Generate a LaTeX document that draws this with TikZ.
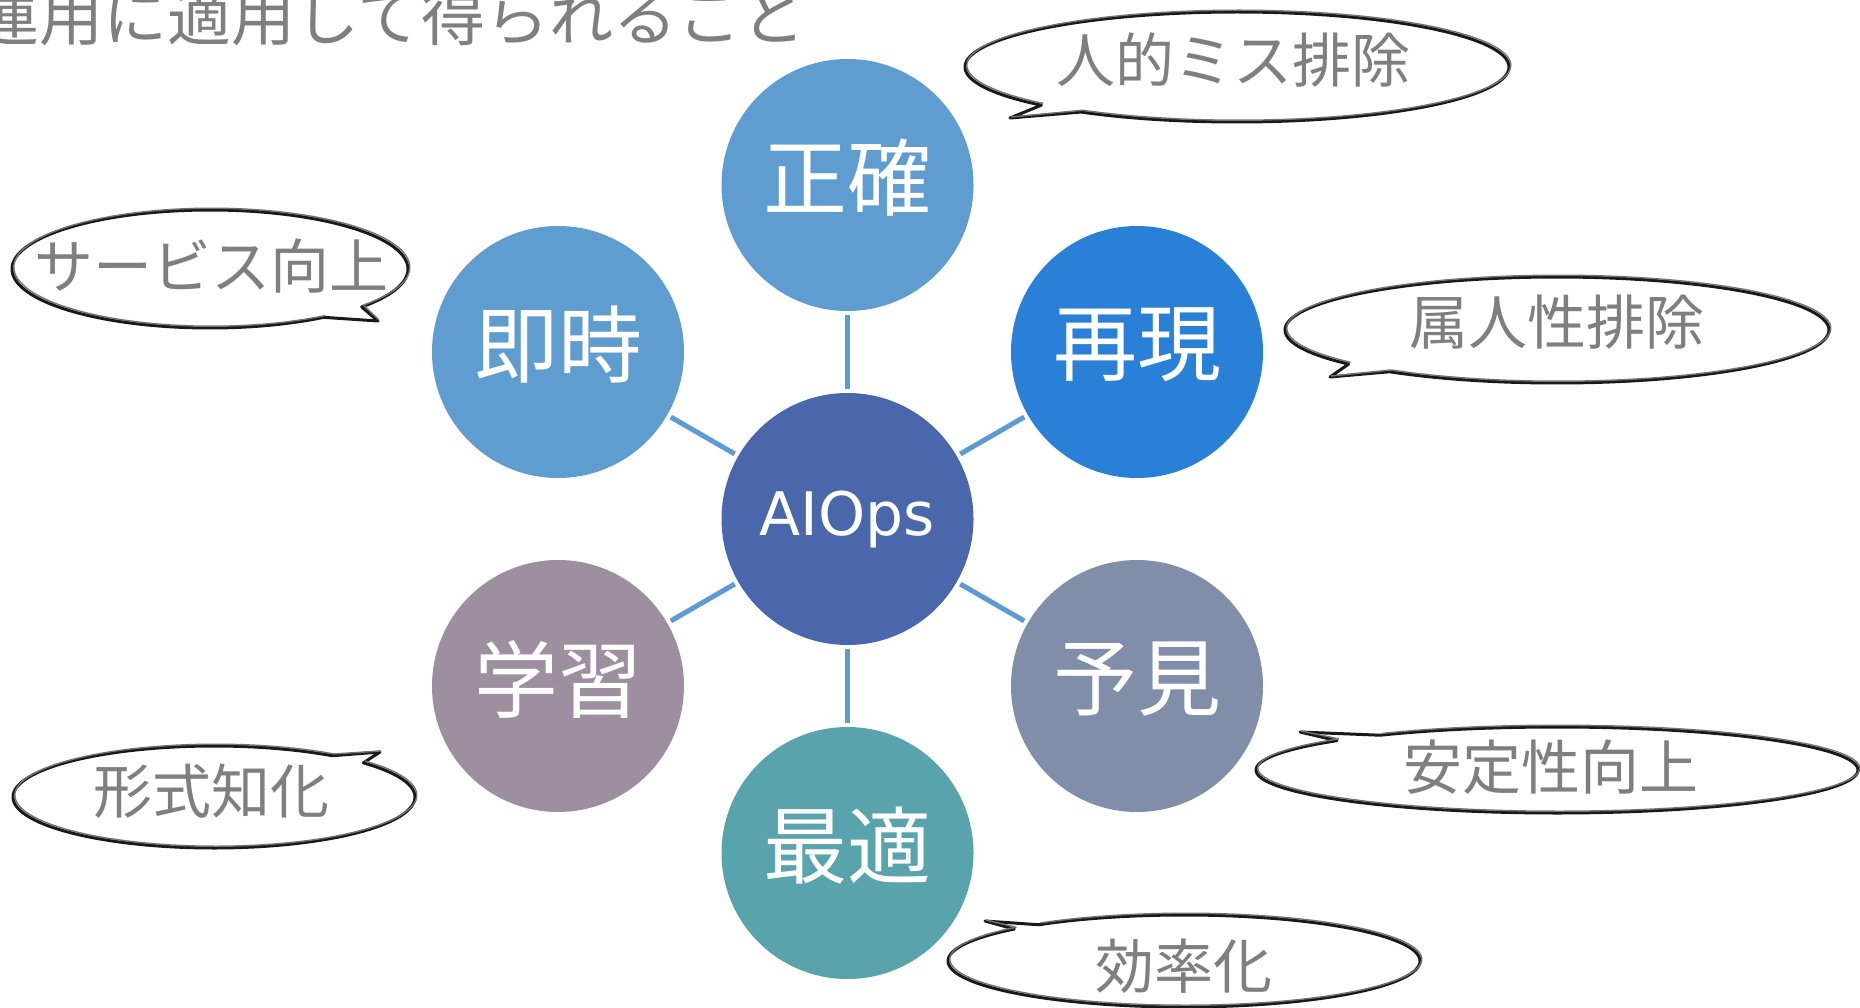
\documentclass[tikz,border=0pt]{standalone}
\usepackage{fontspec}
\newfontfamily\cjk{Noto Sans CJK JP}
\newfontfamily\latn{DejaVu Sans}
\definecolor{cLight}{HTML}{5F9DD1}
\definecolor{cBright}{HTML}{2980D6}
\definecolor{cSlate}{HTML}{808EAA}
\definecolor{cMauve}{HTML}{9E8FA0}
\definecolor{cTeal}{HTML}{58A3AC}
\definecolor{cHub}{HTML}{4A67AC}
\definecolor{linkblue}{HTML}{5D9BD5}
\definecolor{textgray}{HTML}{7F7F7F}
\newcommand\speechbub[8]{%
  \draw[bubline] plot[domain=#5:#6, samples=160, smooth] ({#1+#3*cos(\x)},{#2+#4*sin(\x)}) -- (#7,#8) -- cycle;
  \draw[bubsketch] plot[domain=#5:#6, samples=160, smooth] ({#1+1.8+#3*cos(\x)},{#2-1.8+#4*sin(\x)}) -- (#7+1,#8-1);
}
\begin{document}
\begin{tikzpicture}[x=1pt,y=-1pt,
  hub/.style={circle, minimum size=252pt, inner sep=0pt},
  circtext/.style={text=white, inner sep=0pt, font=\cjk\fontsize{84pt}{90pt}\selectfont},
  conn/.style={draw=linkblue, line width=5pt, shorten >=4pt, shorten <=4pt},
  bubline/.style={line width=3pt, draw=black!90, fill=white, line join=round},
  bubsketch/.style={line width=1.4pt, draw=black!55, line join=round},
  bubtext/.style={text=textgray, inner sep=0pt, font=\cjk\fontsize{59pt}{64pt}\selectfont}
]
\useasboundingbox (0,0) rectangle (1860,1008);
\clip (0,0) rectangle (1860,1008);
\fill[white] (0,0) rectangle (1860,1008);

% title
\node[anchor=base west, inner sep=0pt, text=textgray, font=\cjk\fontsize{64pt}{70pt}\selectfont] (title) at (-25,41) {運用に適用して得られること};

% circles
\node[hub, fill=cHub] (aiops) at (847.5,519) {};
\node[hub, fill=cLight] (seikaku) at (847.5,185) {};
\node[hub, fill=cBright] (saigen) at (1137,352) {};
\node[hub, fill=cSlate] (yoken) at (1137,686) {};
\node[hub, fill=cTeal] (saiteki) at (847.5,853) {};
\node[hub, fill=cMauve] (gakushu) at (558,686) {};
\node[hub, fill=cLight] (sokuji) at (558,352) {};

% connectors
\draw[conn] (aiops) -- (seikaku);
\draw[conn] (aiops) -- (saigen);
\draw[conn] (aiops) -- (yoken);
\draw[conn] (aiops) -- (saiteki);
\draw[conn] (aiops) -- (gakushu);
\draw[conn] (aiops) -- (sokuji);

% circle texts
\node[anchor=base, inner sep=0pt, text=white, font=\latn\fontsize{60pt}{66pt}\selectfont] (aiopst) at (847.5,535) {AIOps};
\node[circtext] (seikakut) at (847.5,178) {正確};
\node[circtext] (saigent) at (1137,345) {再現};
\node[circtext] (yokent) at (1137,679) {予見};
\node[circtext] (saitekit) at (847.5,846) {最適};
\node[circtext] (gakushut) at (558,679) {学習};
\node[circtext] (sokujit) at (558,345) {即時};

% speech bubbles
\speechbub{1237}{67}{272}{55}{136}{485}{1010}{118}
\speechbub{210}{269}{198}{59}{55}{400}{378}{321}
\speechbub{1557}{330}{272}{53}{140}{488}{1330}{377}
\speechbub{214}{797}{201}{51}{-42}{306}{380}{752}
\speechbub{1557}{770}{301}{43}{234}{583}{1300}{732}
\speechbub{1184}{961}{236}{46}{232}{584}{985}{921}

\node[bubtext] (b1) at (1233,60) {人的ミス排除};
\node[bubtext] (b2) at (211,266) {サービス向上};
\node[bubtext] (b3) at (1557,322) {属人性排除};
\node[bubtext] (b4) at (211,791) {形式知化};
\node[bubtext] (b5) at (1551,767) {安定性向上};
\node[bubtext] (b6) at (1184,966) {効率化};
\end{tikzpicture}
\end{document}
